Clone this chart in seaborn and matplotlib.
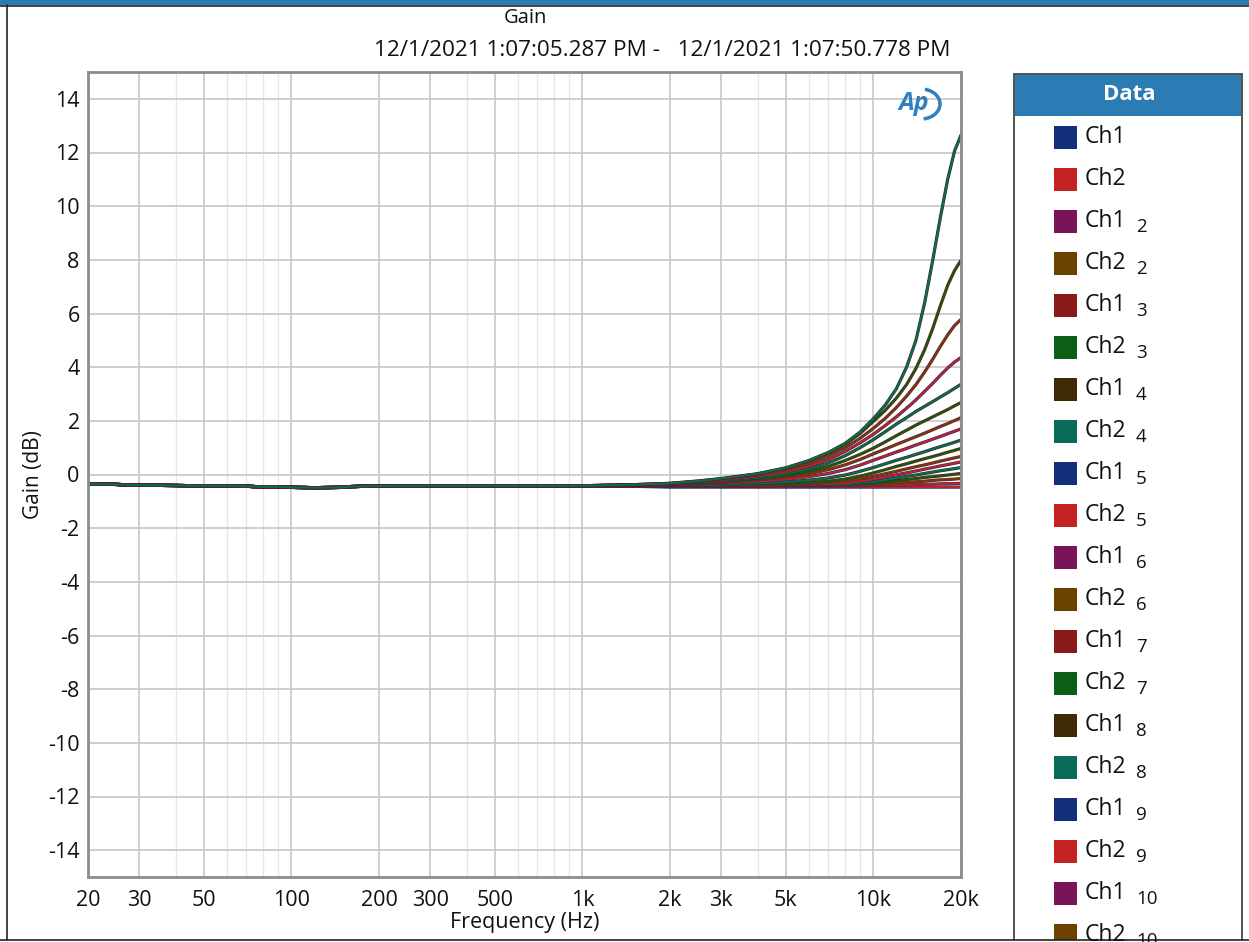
import matplotlib
matplotlib.use("Agg")
import matplotlib.pyplot as plt
from matplotlib.patches import Rectangle, Arc
from matplotlib.ticker import FixedLocator, NullFormatter
import pandas as pd
import seaborn as sns

sns.set_theme(style="white")
plt.rcParams["font.family"] = ["Open Sans", "Noto Sans", "DejaVu Sans"]
plt.rcParams["axes.unicode_minus"] = False

# ---- measured data -------------------------------------------------------
# common low-frequency response (all settings coincide here)
FREQ_LOW = [20, 25, 30, 40, 50, 60, 70, 80, 90, 100, 120, 150, 160, 180, 200, 300, 500, 700]
GAIN_LOW = [-0.36, -0.37, -0.40, -0.41, -0.42, -0.42, -0.44, -0.46, -0.46, -0.48,
            -0.49, -0.48, -0.45, -0.44, -0.43, -0.42, -0.42, -0.42]

# treble region, one row per sweep setting
FREQ_HIGH = [1000, 1500, 2000, 2500, 3000, 4000, 5000, 6000, 7000, 8000, 9000,
             10000, 11000, 12000, 13000, 14000, 15000, 16000, 17000, 18000, 19000, 20000]
GAIN_HIGH = {
    1: [-0.42, -0.42, -0.42, -0.42, -0.42, -0.42, -0.42, -0.42, -0.42, -0.42, -0.42,
        -0.41, -0.40, -0.39, -0.38, -0.37, -0.365, -0.36, -0.35, -0.345, -0.34, -0.33],
    2: [-0.42, -0.42, -0.42, -0.42, -0.42, -0.42, -0.42, -0.42, -0.42, -0.41, -0.40,
        -0.38, -0.35, -0.32, -0.30, -0.27, -0.25, -0.22, -0.20, -0.19, -0.17, -0.15],
    3: [-0.42, -0.42, -0.42, -0.42, -0.42, -0.42, -0.42, -0.41, -0.40, -0.39, -0.36,
        -0.33, -0.28, -0.23, -0.19, -0.15, -0.11, -0.08, -0.05, -0.02, 0.01, 0.04],
    4: [-0.42, -0.42, -0.42, -0.42, -0.42, -0.42, -0.41, -0.40, -0.39, -0.37, -0.32,
        -0.27, -0.20, -0.13, -0.07, -0.02, 0.04, 0.09, 0.14, 0.18, 0.22, 0.26],
    5: [-0.42, -0.42, -0.42, -0.42, -0.42, -0.41, -0.40, -0.38, -0.36, -0.32, -0.25,
        -0.18, -0.09, -0.01, 0.06, 0.13, 0.20, 0.26, 0.32, 0.37, 0.42, 0.47],
    6: [-0.42, -0.42, -0.42, -0.42, -0.41, -0.40, -0.38, -0.35, -0.30, -0.24, -0.16,
        -0.07, 0.03, 0.12, 0.21, 0.29, 0.36, 0.43, 0.50, 0.56, 0.62, 0.67],
    7: [-0.42, -0.42, -0.41, -0.41, -0.40, -0.38, -0.35, -0.31, -0.25, -0.17, -0.06,
        0.06, 0.18, 0.30, 0.40, 0.50, 0.59, 0.67, 0.75, 0.83, 0.90, 0.97],
    8: [-0.42, -0.41, -0.40, -0.39, -0.37, -0.33, -0.28, -0.21, -0.13, -0.02, 0.12,
        0.26, 0.40, 0.53, 0.64, 0.75, 0.85, 0.95, 1.04, 1.12, 1.20, 1.28],
    9: [-0.42, -0.40, -0.38, -0.35, -0.32, -0.26, -0.18, -0.08, 0.04, 0.18, 0.35,
        0.53, 0.69, 0.84, 0.97, 1.10, 1.21, 1.32, 1.42, 1.52, 1.61, 1.70],
    10: [-0.42, -0.40, -0.37, -0.33, -0.29, -0.20, -0.10, 0.03, 0.18, 0.36, 0.56,
         0.77, 0.95, 1.12, 1.27, 1.41, 1.54, 1.67, 1.79, 1.90, 2.01, 2.12],
    11: [-0.42, -0.40, -0.37, -0.33, -0.28, -0.18, -0.05, 0.11, 0.30, 0.52, 0.75,
         0.98, 1.22, 1.45, 1.65, 1.84, 2.00, 2.15, 2.29, 2.42, 2.56, 2.68],
    12: [-0.42, -0.39, -0.36, -0.31, -0.25, -0.12, 0.03, 0.21, 0.43, 0.70, 1.00,
         1.30, 1.60, 1.88, 2.12, 2.35, 2.54, 2.72, 2.89, 3.05, 3.21, 3.36],
    13: [-0.42, -0.39, -0.35, -0.29, -0.22, -0.07, 0.10, 0.31, 0.56, 0.86, 1.18,
         1.50, 1.83, 2.15, 2.47, 2.78, 3.10, 3.40, 3.70, 3.97, 4.19, 4.36],
    14: [-0.42, -0.38, -0.34, -0.27, -0.19, -0.02, 0.17, 0.41, 0.69, 1.00, 1.35,
         1.72, 2.10, 2.50, 2.92, 3.35, 3.82, 4.30, 4.78, 5.20, 5.55, 5.78],
    15: [-0.42, -0.38, -0.33, -0.25, -0.16, 0.02, 0.23, 0.50, 0.80, 1.13, 1.53,
         1.98, 2.40, 2.85, 3.35, 3.95, 4.65, 5.45, 6.30, 7.05, 7.60, 7.98],
    16: [-0.42, -0.38, -0.33, -0.24, -0.15, 0.03, 0.25, 0.52, 0.82, 1.16, 1.58,
         2.08, 2.60, 3.20, 4.00, 5.00, 6.40, 8.00, 9.60, 11.00, 12.05, 12.65],
    17: [-0.42, -0.44, -0.47, -0.47, -0.47, -0.47, -0.47, -0.47, -0.47, -0.47, -0.47,
         -0.47, -0.47, -0.47, -0.47, -0.47, -0.47, -0.47, -0.47, -0.47, -0.47, -0.47],
}
CHANNELS = ["Ch1", "Ch2"]
LEGEND_SETTINGS = list(range(1, 11))   # entries visible in the data panel

PALETTE = ["#12307a", "#c42222", "#7a1458", "#6b4200",
           "#8a1a1a", "#0b5e16", "#3e2a05", "#0a6b5a"]

X_TICKS = [20, 30, 50, 100, 200, 300, 500, 1000, 2000, 3000, 5000, 10000, 20000]
X_TICK_LABELS = ["20", "30", "50", "100", "200", "300", "500", "1k", "2k", "3k", "5k", "10k", "20k"]
X_MINOR = [40, 60, 70, 80, 90, 400, 600, 700, 800, 900,
           4000, 6000, 7000, 8000, 9000]
Y_TICKS = list(range(-14, 15, 2))

TITLE = "Gain"
SUBTITLE = "12/1/2021 1:07:05.287 PM -   12/1/2021 1:07:50.778 PM"
X_LABEL = "Frequency (Hz)"
Y_LABEL = "Gain (dB)"
LEGEND_TITLE = "Data"

W, H = 1249, 942
fig = plt.figure(figsize=(W / 100, H / 100), dpi=100)
fig.patch.set_facecolor("white")

# plot area in pixel coordinates
L, R, T, B = 88, 961, 72, 877
ax = fig.add_axes([L / W, 1 - B / H, (R - L) / W, (B - T) / H])


def series_color(setting, ci):
    return PALETTE[(2 * (setting - 1) + ci) % len(PALETTE)]


# ---- curves ---------------------------------------------------------------
rows = []
for setting, tail in GAIN_HIGH.items():
    for ch in CHANNELS:
        for f, g in zip(FREQ_LOW + FREQ_HIGH, GAIN_LOW + tail):
            rows.append({"setting": setting, "channel": ch, "freq": f, "gain": g})
df = pd.DataFrame(rows)

# the flat setting goes underneath the others
draw_order = [17] + list(range(1, 17))
for setting in draw_order:
    for ci, ch in enumerate(CHANNELS):
        sub = df[(df.setting == setting) & (df.channel == ch)]
        sns.lineplot(data=sub, x="freq", y="gain", ax=ax,
                     color=series_color(setting, ci),
                     lw=2.3 if ci == 0 else 1.5, legend=False,
                     estimator=None, sort=False)

ax.set_xscale("log")
ax.set_xlim(20, 20000)
ax.set_ylim(-15, 15)
ax.xaxis.set_major_locator(FixedLocator(X_TICKS))
ax.set_xticklabels(X_TICK_LABELS)
ax.xaxis.set_minor_locator(FixedLocator(X_MINOR))
ax.xaxis.set_minor_formatter(NullFormatter())
ax.set_yticks(Y_TICKS)
ax.set_yticklabels([str(v) for v in Y_TICKS])
ax.tick_params(axis="both", which="both", length=0, labelsize=15.5,
               colors="#111111")
ax.tick_params(axis="x", pad=9)
ax.tick_params(axis="y", pad=6)
ax.grid(True, which="major", axis="both", color="#c6c6c6", lw=1.2)
ax.grid(True, which="minor", axis="x", color="#e6e6e6", lw=1.0)
ax.set_axisbelow(True)
for sp in ax.spines.values():
    sp.set_color("#8c8c8c")
    sp.set_linewidth(2)
ax.set_xlabel(X_LABEL, fontsize=15.5, color="#111111", labelpad=1)
ax.set_ylabel(Y_LABEL, fontsize=15, color="#111111", labelpad=3)

# ---- overlay in pixel coordinates: titles, logo, legend, window frame ----
ov = fig.add_axes([0, 0, 1, 1], zorder=5)
ov.set_xlim(0, W)
ov.set_ylim(H, 0)
ov.axis("off")
ov.patch.set_alpha(0)

ov.text(525, 18, TITLE, ha="center", va="center", fontsize=14.5, color="#111111")
ov.text(662, 51, SUBTITLE, ha="center", va="center", fontsize=16.2, color="#111111")

# logo
ov.text(914, 104, "Ap", ha="center", va="center", fontsize=18, color="#2f7fc1",
        fontweight="bold", fontstyle="italic")
ov.add_patch(Arc((921, 104), 38, 30, theta1=-75, theta2=80, color="#2f7fc1", lw=2.5))

# legend panel
ov.add_patch(Rectangle((1014, 74), 228, 900, facecolor="white",
                       edgecolor="#333333", lw=1.2))
ov.add_patch(Rectangle((1015, 75), 226, 41, facecolor="#2b7bb5", edgecolor="none"))
ov.text(1129, 95, LEGEND_TITLE, ha="center", va="center", fontsize=16,
        color="white", fontweight="bold")
i = 0
for setting in LEGEND_SETTINGS:
    for ci, ch in enumerate(CHANNELS):
        y = 137 + 42 * i
        ov.add_patch(Rectangle((1054, y - 11.5), 23, 23,
                               facecolor=series_color(setting, ci),
                               edgecolor="none"))
        ov.text(1085, y, ch, ha="left", va="center", fontsize=16.5, color="#111111")
        if setting > 1:
            ov.text(1136, y + 6, str(setting), ha="left", va="center",
                    fontsize=13.5, color="#111111")
        i += 1

# window frame
ov.add_patch(Rectangle((0, 940), W, 10, facecolor="white", edgecolor="none"))
ov.add_patch(Rectangle((0, 0), W, 5, facecolor="#2b7bb5", edgecolor="none"))
ov.plot([0, W], [5.5, 5.5], color="#222222", lw=1.2)
ov.plot([7, 7], [5, 940], color="#222222", lw=1.2)
ov.plot([0, W], [939.5, 939.5], color="#222222", lw=1.2)

fig.savefig("out.png", dpi=100)
